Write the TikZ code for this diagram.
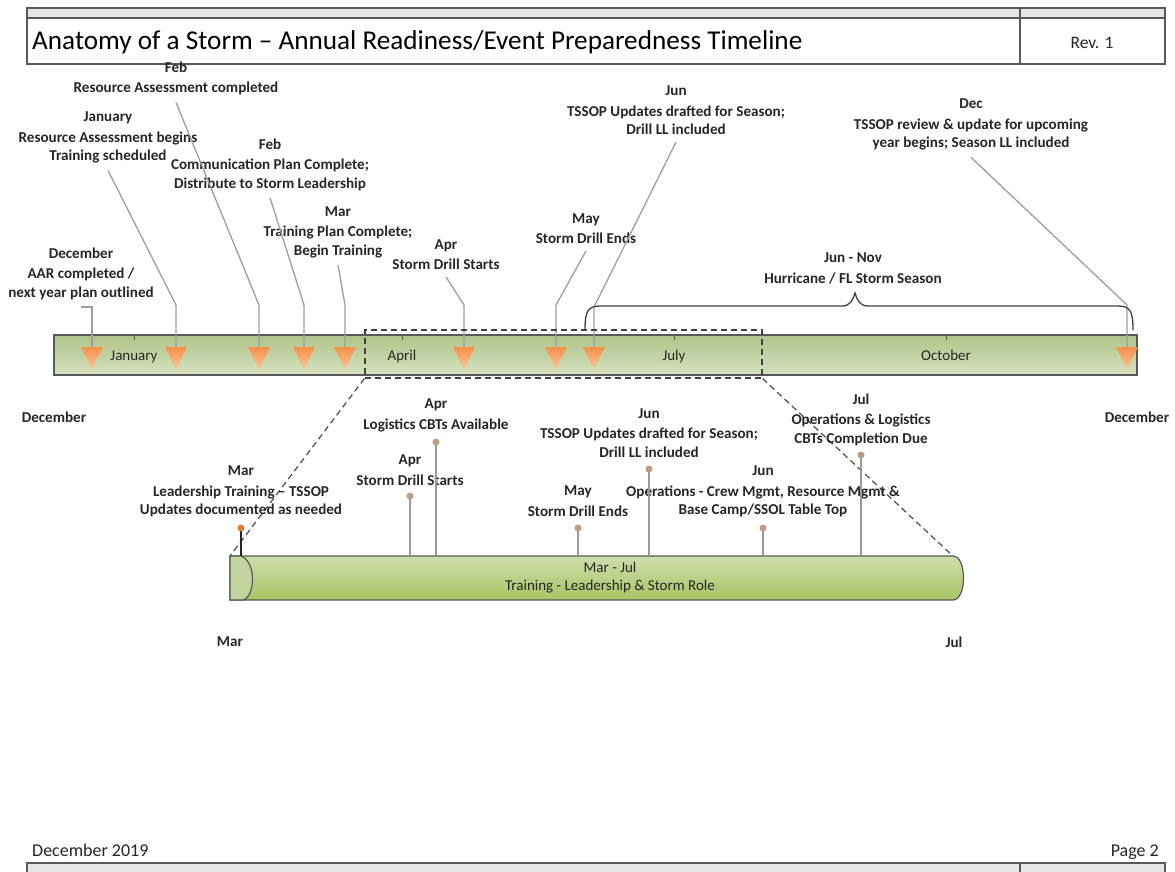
\documentclass[tikz,border=0pt]{standalone}
\usepackage{fontspec}
\setmainfont{Carlito}
\usetikzlibrary{shapes.geometric}

\definecolor{barTop}{HTML}{AFC389}
\definecolor{barBot}{HTML}{D7E2C0}
\definecolor{triTop}{HTML}{F6914C}
\definecolor{triBot}{HTML}{FCC598}
\definecolor{cylTop}{HTML}{CFDDAC}
\definecolor{cylMid}{HTML}{8FAC45}
\definecolor{cylBot}{HTML}{A8C462}
\definecolor{cylFace}{HTML}{C4D49E}
\definecolor{dotTan}{HTML}{BC9C84}
\definecolor{dotOrange}{HTML}{E07A36}
\definecolor{edgeGray}{HTML}{595959}
\definecolor{stripGray}{HTML}{E6E6E6}

\tikzset{
  frame/.style={draw=edgeGray,line width=1.2pt},
  lbl/.style={font=\bfseries\fontsize{15.1}{18.5}\selectfont,align=center,inner sep=0pt,text=black!85},
  plain/.style={font=\fontsize{15}{18.5}\selectfont,align=center,inner sep=0pt,text=black!85},
  leader/.style={draw=black!38,line width=1.3pt},
  tri/.style={isosceles triangle,isosceles triangle stretches,shape border rotate=270,
    minimum width=22pt,minimum height=22pt,inner sep=0pt,top color=triTop,bottom color=triBot,draw=none},
  mainbar/.style={draw=edgeGray,line width=1.2pt,top color=barTop,bottom color=barBot,
    minimum width=1083pt,minimum height=40pt,inner sep=0pt},
  zoombox/.style={draw=black!75,dash pattern=on 6pt off 4pt,line width=1.2pt,minimum width=397pt,minimum height=48pt,inner sep=0pt},
  zoomline/.style={draw=black!70,dash pattern=on 6pt off 4pt,line width=1.2pt},
  stem/.style={draw=black!40,line width=1.5pt},
  dot/.style={circle,fill=dotTan,inner sep=0pt,minimum size=7pt}
}

\begin{document}
\begin{tikzpicture}[x=1pt,y=-1pt]
\useasboundingbox (0,0) rectangle (1175,871);

% header and footer
\draw[frame,fill=stripGray] (27,8) rectangle (1165,18);
\draw[frame] (27,18) rectangle (1165,64);
\draw[frame] (1020,8) -- (1020,64);
\node[anchor=west,inner sep=0pt,font=\fontsize{27.2}{30}\selectfont] (title) at (32,42.5) {Anatomy of a Storm – Annual Readiness/Event Preparedness Timeline};
\node[plain,font=\fontsize{17.5}{20}\selectfont] (rev) at (1092,43) {Rev. 1};
\node[plain,anchor=base west,font=\fontsize{18}{20}\selectfont] (date) at (32,856.5) {December 2019};
\node[plain,anchor=base east,font=\fontsize{18}{20}\selectfont] (page) at (1159,856.5) {Page 2};
\draw[frame,fill=stripGray] (27,863) rectangle (1165,876);
\draw[frame] (1020,863) -- (1020,876);

% year bar
\node[mainbar] (bar) at (595.5,355) {};
\foreach \x/\m in {134/January,402/April,674/July,946/October}{
  \draw[edgeGray,line width=1pt] (bar.north -| \x,0) -- ++(0,6);
  \node[plain,anchor=base] (m\m) at (\x,360.5) {\m};
}
\foreach \x [count=\i] in {92,176,259,304,345,464,556,594,1127}
  \node[tri] (t\i) at (\x,354) {};

% upper events
\node[lbl] (dec) at (81,273.5) {December\\[2pt]AAR completed /\\next year plan outlined};
\node[lbl] (jan) at (108,137.5) {January\\[2pt]Resource Assessment begins\\Training scheduled};
\node[lbl] (febA) at (176,78.5) {Feb\\[2pt]Resource Assessment completed};
\node[lbl] (febB) at (270,164.5) {Feb\\[2pt]Communication Plan Complete;\\Distribute to Storm Leadership};
\node[lbl] (mar) at (338,232) {Mar\\[2pt]Training Plan Complete;\\Begin Training};
\node[lbl] (aprA) at (446,254.5) {Apr\\[2pt]Storm Drill Starts};
\node[lbl] (mayA) at (586,228.5) {May\\[2pt]Storm Drill Ends};
\node[lbl] (junA) at (676,110.5) {Jun\\[2pt]TSSOP Updates drafted for Season;\\Drill LL included};
\node[lbl] (decB) at (971,124.5) {Dec\\[2pt]TSSOP review \& update for upcoming\\year begins; Season LL included};
\node[lbl] (season) at (853,268.5) {Jun - Nov\\[2pt]Hurricane / FL Storm Season};

\draw[leader] (dec.south |- 0,307) -- (t1.north |- 0,307) -- (t1.north);
\draw[leader] ([yshift=-7pt]jan.south) -- (t2.north |- 0,305) -- (t2.north);
\draw[leader] ([yshift=-7pt]febA.south) -- (t3.north |- 0,305) -- (t3.north);
\draw[leader] ([yshift=-7pt]febB.south) -- (t4.north |- 0,305) -- (t4.north);
\draw[leader] ([yshift=-7pt]mar.south) -- (t5.north |- 0,305) -- (t5.north);
\draw[leader] ([yshift=-7pt]aprA.south) -- (t6.north |- 0,305) -- (t6.north);
\draw[leader] ([yshift=-7pt]mayA.south) -- (t7.north |- 0,305) -- (t7.north);
\draw[leader] ([yshift=-7pt]junA.south) -- (t8.north |- 0,307) -- (t8.north);
\draw[leader] ([yshift=-7pt]decB.south) -- (t9.north |- 0,305) -- (t9.north);

% season brace
\draw[draw=black!75,line width=1.3pt] (585,330) .. controls (585,311) and (588,306) .. (600,306)
  -- (842,306) .. controls (850,306) and (853,300) .. (855,293)
  .. controls (857,300) and (860,306) .. (868,306) -- (1118,306)
  .. controls (1130,306) and (1133,311) .. (1133,330);

\node[lbl] (decL) at (54,417) {December};
\node[lbl] (decR) at (1137,417) {December};

% zoomed part
\node[zoombox] (zoombox) at (563.5,354) {};
\coordinate (cylL) at (230,556);
\coordinate (cylR) at (953,556);
\draw[zoomline] (zoombox.south west) -- (cylL);
\draw[zoomline] (zoombox.south east) -- (cylR);

\shade[top color=cylTop,middle color=cylMid,bottom color=cylBot,draw=edgeGray,line width=1.2pt]
  (230,556) -- (953,556) .. controls (967,556) and (967,600) .. (953,600) -- (230,600) -- cycle;
\draw[fill=cylFace,draw=edgeGray,line width=1.2pt]
  (230,556) -- (241,556) .. controls (256,561) and (256,596) .. (243,600) -- (230,600) -- cycle;
\node[plain] (trainlbl) at (610,577.5) {Mar - Jul\\Training - Leadership \& Storm Role};

% lower events
\node[lbl] (lmar) at (241,491.5) {Mar\\[2pt]Leadership Training – TSSOP\\Updates documented as needed};
\node[lbl] (lapr) at (410,470) {Apr\\[2pt]Storm Drill Starts};
\node[lbl] (llog) at (436,415.5) {Apr\\[2pt]Logistics CBTs Available};
\node[lbl] (lmay) at (578,501) {May\\[2pt]Storm Drill Ends};
\node[lbl] (ljun) at (649,433) {Jun\\[2pt]TSSOP Updates drafted for Season;\\Drill LL included};
\node[lbl] (lops) at (763,491.5) {Jun\\[2pt]Operations - Crew Mgmt, Resource Mgmt \&\\Base Camp/SSOL Table Top};
\node[lbl] (ljul) at (861,419.5) {Jul\\[2pt]Operations \& Logistics\\CBTs Completion Due};

\coordinate (d1) at (241,528);
\coordinate (d2) at (410,496);
\coordinate (d3) at (436,442);
\coordinate (d4) at (578,528);
\coordinate (d5) at (649,469);
\coordinate (d6) at (763,528);
\coordinate (d7) at (861,455);
\draw[stem,draw=black!85] (d1) -- (d1 |- cylL);
\foreach \i in {2,...,7}
  \draw[stem] (d\i) -- (d\i |- cylL);
\node[dot,fill=dotOrange] (p1) at (d1) {};
\foreach \i in {2,...,7}
  \node[dot] (p\i) at (d\i) {};

\node[lbl] (lbMar) at (230,642) {Mar};
\node[lbl] (lbJul) at (954,642) {Jul};
\end{tikzpicture}
\end{document}
